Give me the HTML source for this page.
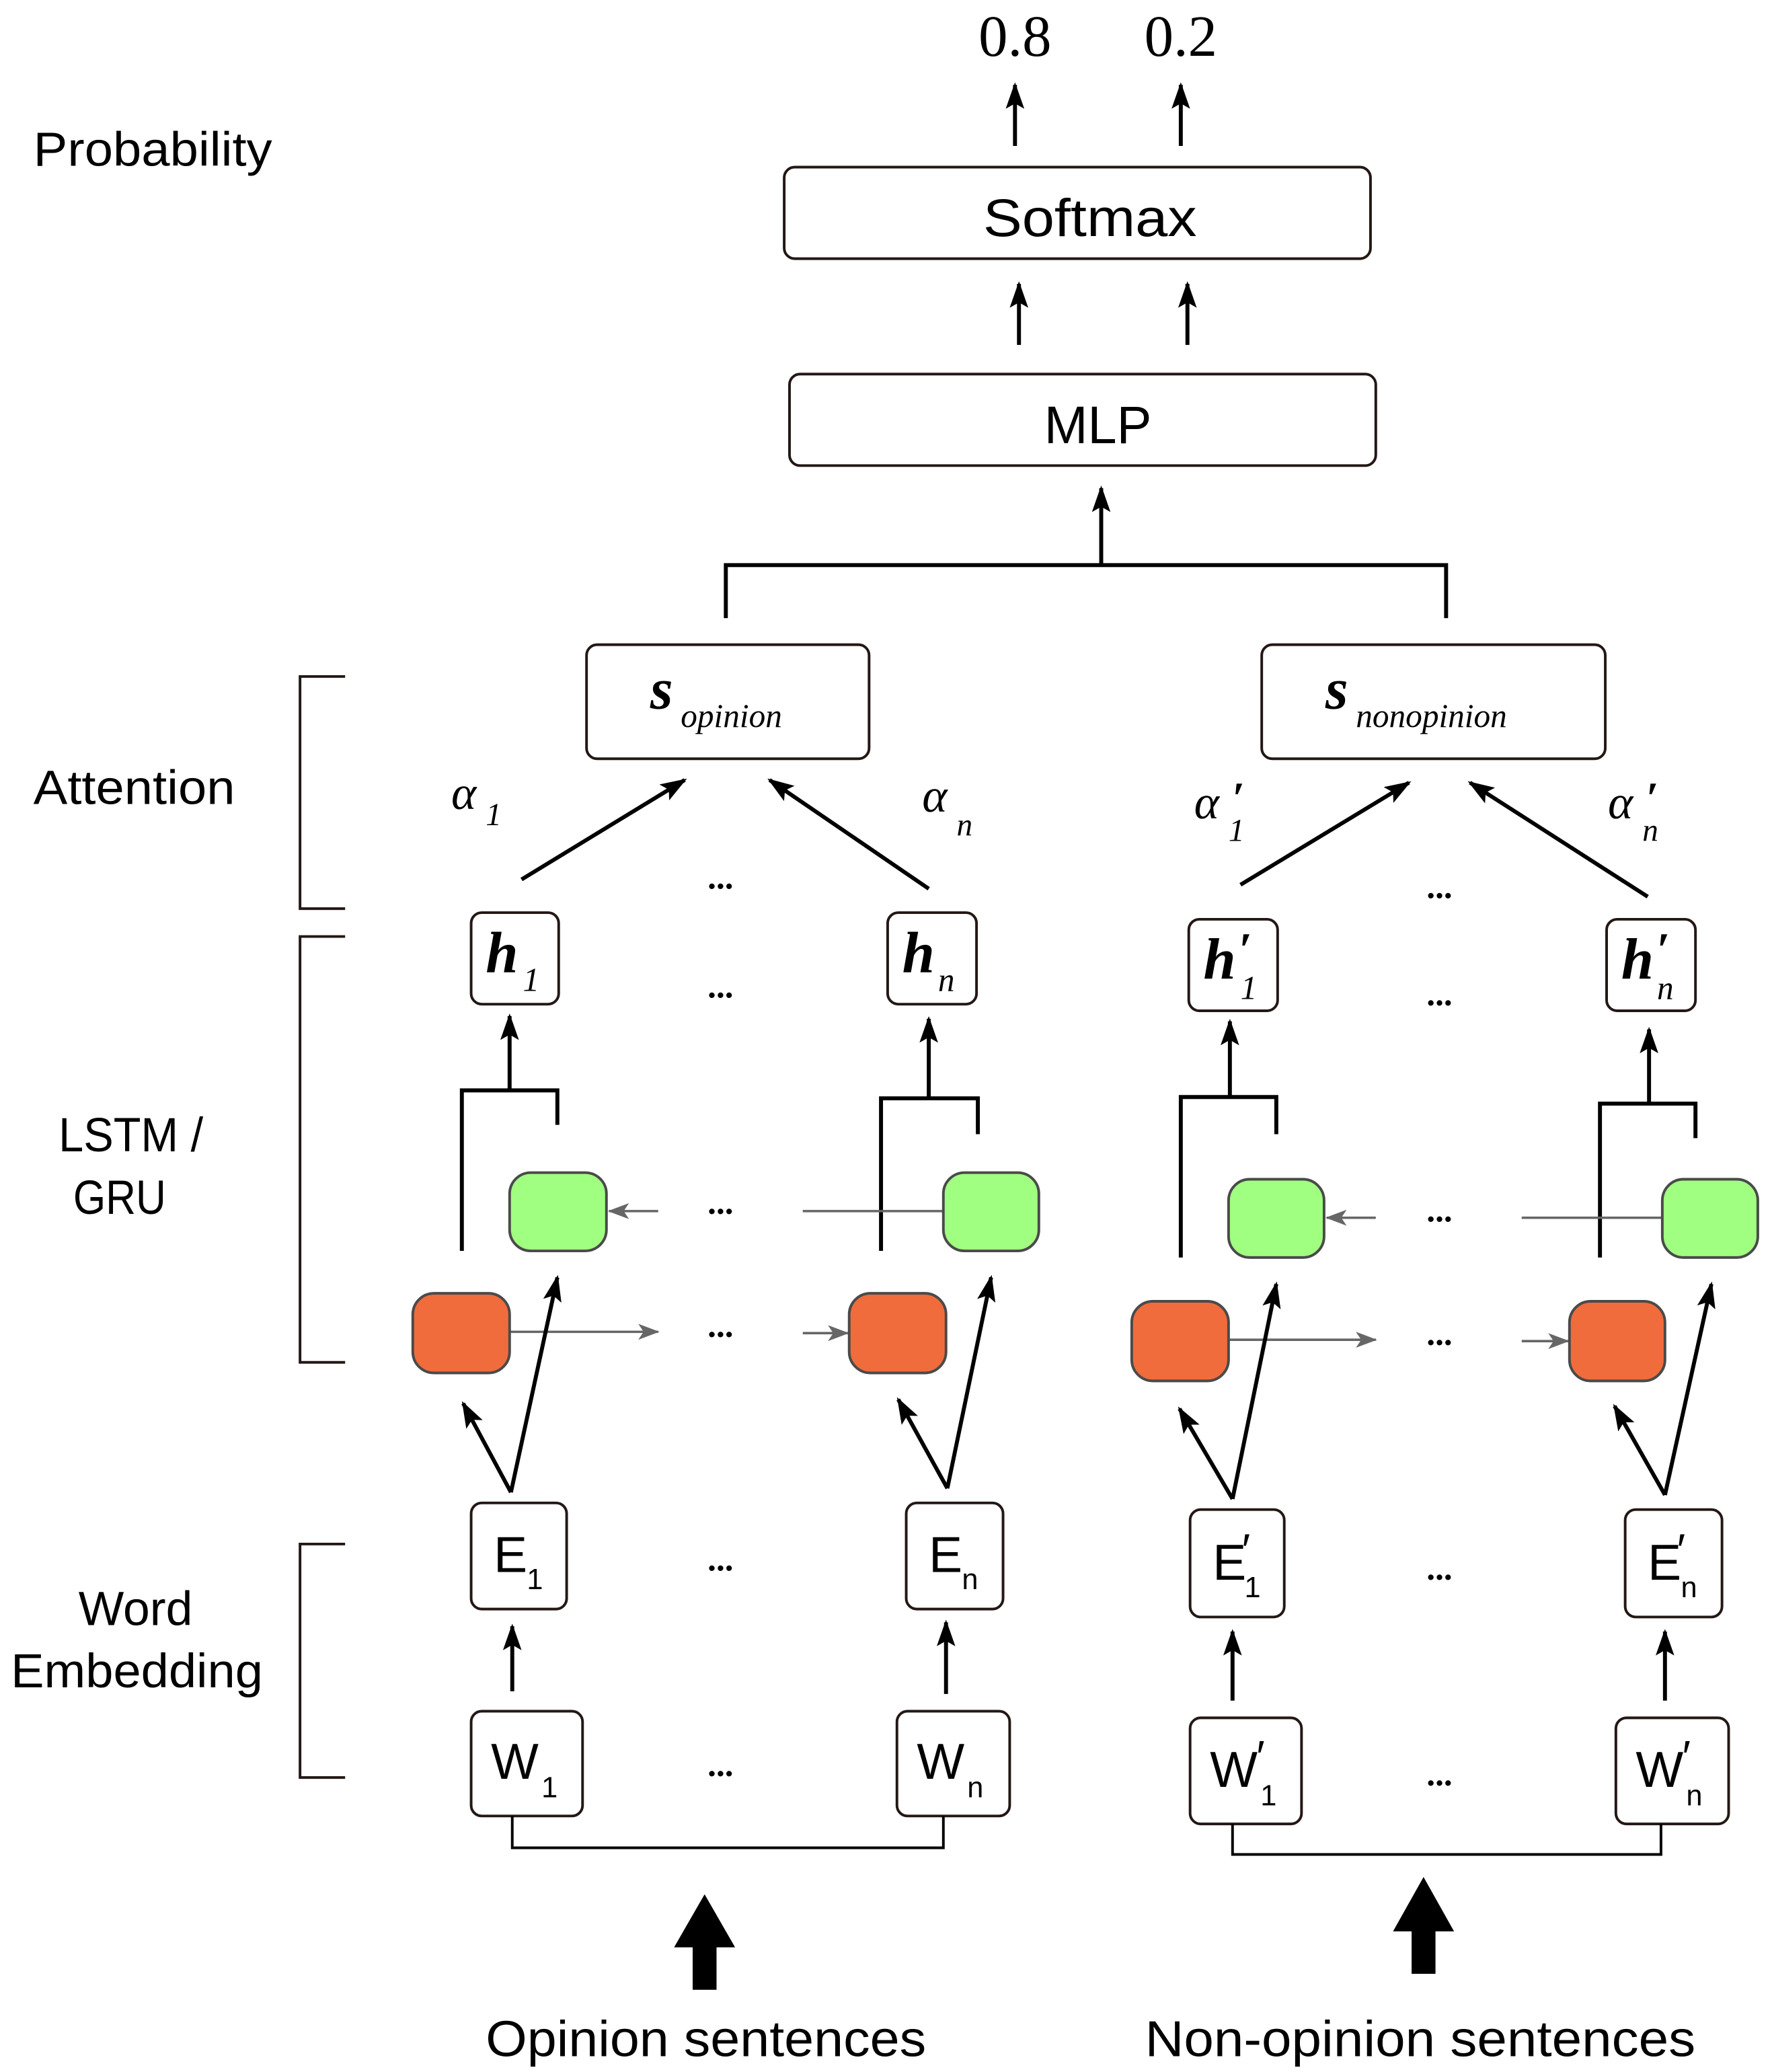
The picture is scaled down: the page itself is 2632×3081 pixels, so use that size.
<!DOCTYPE html>
<html><head><meta charset="utf-8"><style>html,body{margin:0;padding:0;background:#fff}svg{display:block}</style></head><body>
<svg width="2632" height="3081" viewBox="0 0 1334 1562" xmlns="http://www.w3.org/2000/svg">
<defs>
<marker id="k" markerWidth="20" markerHeight="14" refX="18" refY="7" orient="auto" markerUnits="userSpaceOnUse"><path d="M0,0 L20,7 L0,14 L4,7 Z" fill="#000"/></marker>
<marker id="g" markerWidth="16" markerHeight="12" refX="15" refY="6" orient="auto" markerUnits="userSpaceOnUse"><path d="M0,0 L16,6 L0,12 L4,6 Z" fill="#666"/></marker>
</defs>
<style>
.s{font-family:"Liberation Sans",sans-serif;fill:#000}
.m{font-family:"Liberation Serif",serif;font-style:italic;fill:#000}
.p{font-family:"Liberation Serif",serif;font-weight:bold;fill:#000}
.b{fill:#fff;stroke:#231815;stroke-width:2}
.l{stroke:#000;stroke-width:3;fill:none}
.gl{stroke:#666;stroke-width:1.8;fill:none}
.or{fill:#F06C3C;stroke:#4a4a4a;stroke-width:2}
.gr{fill:#A0FF80;stroke:#4a4a4a;stroke-width:2}
.d{font-family:"Liberation Serif",serif;font-size:26px;font-weight:bold;text-anchor:middle}
</style>
<text x="765" y="42" font-family="Liberation Serif,serif" font-size="44" text-anchor="middle">0.8</text>
<text x="890" y="42" font-family="Liberation Serif,serif" font-size="44" text-anchor="middle">0.2</text>
<line class="l" x1="765" y1="110" x2="765" y2="64" marker-end="url(#k)"/>
<line class="l" x1="890" y1="110" x2="890" y2="64" marker-end="url(#k)"/>
<rect class="b" x="591" y="126" width="442" height="69" rx="8"/>
<text class="s" x="741" y="178" font-size="40" textLength="161" lengthAdjust="spacingAndGlyphs">Softmax</text>
<line class="l" x1="768" y1="260" x2="768" y2="214" marker-end="url(#k)"/>
<line class="l" x1="895" y1="260" x2="895" y2="214" marker-end="url(#k)"/>
<rect class="b" x="595" y="282" width="442" height="69" rx="8"/>
<text class="s" x="787" y="334" font-size="40" textLength="81" lengthAdjust="spacingAndGlyphs">MLP</text>
<line class="l" x1="830" y1="425" x2="830" y2="368" marker-end="url(#k)"/>
<polyline class="l" points="547,466 547,426 1090,426 1090,466"/>
<rect class="b" x="442" y="486" width="213" height="86" rx="8"/>
<text class="m" x="490" y="534" font-size="44" font-weight="bold">s</text><text class="m" x="513" y="548" font-size="25">opinion</text>
<rect class="b" x="951" y="486" width="259" height="86" rx="8"/>
<text class="m" x="999" y="534" font-size="44" font-weight="bold">s</text><text class="m" x="1022" y="548" font-size="25">nonopinion</text>
<text class="m" x="340" y="610" font-size="36">α</text><text class="m" x="366" y="622" font-size="24">1</text>
<text class="m" x="695" y="612" font-size="36">α</text><text class="m" x="721" y="630" font-size="24">n</text>
<text class="m" x="900" y="617" font-size="36">α</text><text class="m" x="926" y="634" font-size="24">1</text><text class="p" x="929" y="613" font-size="34">′</text>
<text class="m" x="1212" y="617" font-size="36">α</text><text class="m" x="1238" y="634" font-size="24">n</text><text class="p" x="1241" y="613" font-size="34">′</text>
<line class="l" x1="393" y1="663" x2="516" y2="588" marker-end="url(#k)"/>
<line class="l" x1="700" y1="670" x2="580" y2="588" marker-end="url(#k)"/>
<line class="l" x1="935" y1="667" x2="1062" y2="590" marker-end="url(#k)"/>
<line class="l" x1="1242" y1="676" x2="1108" y2="590" marker-end="url(#k)"/>
<g class="d">
<text x="543" y="670">...</text><text x="1085" y="677">...</text>
<text x="543" y="752">...</text><text x="1085" y="758">...</text>
<text x="543" y="915">...</text><text x="1085" y="921">...</text>
<text x="543" y="1008">...</text><text x="1085" y="1014">...</text>
<text x="543" y="1184">...</text><text x="1085" y="1191">...</text>
<text x="543" y="1339">...</text><text x="1085" y="1346">...</text>
</g>
<rect class="b" x="355" y="688" width="66" height="69" rx="8"/>
<text class="m" x="366" y="733" font-size="44" font-weight="bold">h</text><text class="m" x="394" y="747" font-size="25">1</text>
<rect class="b" x="669" y="688" width="67" height="69" rx="8"/>
<text class="m" x="680" y="733" font-size="44" font-weight="bold">h</text><text class="m" x="707" y="747" font-size="25">n</text>
<rect class="b" x="896" y="693" width="67" height="69" rx="8"/>
<text class="m" x="907" y="738" font-size="44" font-weight="bold">h</text><text class="m" x="935" y="753" font-size="25">1</text><text class="p" x="934" y="728" font-size="36">′</text>
<rect class="b" x="1211" y="693" width="67" height="69" rx="8"/>
<text class="m" x="1222" y="738" font-size="44" font-weight="bold">h</text><text class="m" x="1249" y="753" font-size="25">n</text><text class="p" x="1249" y="728" font-size="36">′</text>
<polyline class="l" points="348,943 348,822 420,822 420,848"/>
<line class="l" x1="384" y1="822" x2="384" y2="766" marker-end="url(#k)"/>
<line class="gl" x1="496" y1="913" x2="459" y2="913" marker-end="url(#g)"/>
<line class="gl" x1="384" y1="1004" x2="496" y2="1004" marker-end="url(#g)"/>
<rect class="gr" x="384" y="884" width="73" height="59" rx="16"/>
<rect class="or" x="311" y="975" width="73" height="60" rx="16"/>
<line class="l" x1="385" y1="1125" x2="349" y2="1058" marker-end="url(#k)"/>
<line class="l" x1="385" y1="1125" x2="420" y2="963" marker-end="url(#k)"/>
<polyline class="l" points="664,943 664,828 737,828 737,855"/>
<line class="l" x1="700" y1="828" x2="700" y2="768" marker-end="url(#k)"/>
<line class="gl" x1="605" y1="913" x2="711" y2="913"/>
<line class="gl" x1="605" y1="1005" x2="639" y2="1005" marker-end="url(#g)"/>
<rect class="gr" x="711" y="884" width="72" height="59" rx="16"/>
<rect class="or" x="640" y="975" width="73" height="60" rx="16"/>
<line class="l" x1="714" y1="1122" x2="677" y2="1055" marker-end="url(#k)"/>
<line class="l" x1="714" y1="1122" x2="747" y2="963" marker-end="url(#k)"/>
<polyline class="l" points="890,948 890,827 962,827 962,855"/>
<line class="l" x1="927" y1="827" x2="927" y2="770" marker-end="url(#k)"/>
<line class="gl" x1="1037" y1="918" x2="1000" y2="918" marker-end="url(#g)"/>
<line class="gl" x1="926" y1="1010" x2="1037" y2="1010" marker-end="url(#g)"/>
<rect class="gr" x="926" y="889" width="72" height="59" rx="16"/>
<rect class="or" x="853" y="981" width="73" height="60" rx="16"/>
<line class="l" x1="929" y1="1130" x2="889" y2="1062" marker-end="url(#k)"/>
<line class="l" x1="929" y1="1130" x2="962" y2="968" marker-end="url(#k)"/>
<polyline class="l" points="1206,948 1206,832 1278,832 1278,858"/>
<line class="l" x1="1243" y1="832" x2="1243" y2="776" marker-end="url(#k)"/>
<line class="gl" x1="1147" y1="918" x2="1253" y2="918"/>
<line class="gl" x1="1147" y1="1011" x2="1182" y2="1011" marker-end="url(#g)"/>
<rect class="gr" x="1253" y="889" width="72" height="59" rx="16"/>
<rect class="or" x="1183" y="981" width="72" height="60" rx="16"/>
<line class="l" x1="1255" y1="1127" x2="1217" y2="1060" marker-end="url(#k)"/>
<line class="l" x1="1255" y1="1127" x2="1290" y2="968" marker-end="url(#k)"/>
<rect class="b" x="355" y="1133" width="72" height="80" rx="8"/>
<text class="s" x="372" y="1185" font-size="38">E</text><text class="s" x="397" y="1198" font-size="22">1</text>
<rect class="b" x="683" y="1133" width="73" height="80" rx="8"/>
<text class="s" x="700" y="1185" font-size="38">E</text><text class="s" x="725" y="1198" font-size="22">n</text>
<rect class="b" x="897" y="1138" width="71" height="81" rx="8"/>
<text class="s" x="914" y="1191" font-size="38">E</text><text class="s" x="938" y="1204" font-size="22">1</text><text class="s" x="936" y="1180" font-size="34">′</text>
<rect class="b" x="1225" y="1138" width="73" height="81" rx="8"/>
<text class="s" x="1242" y="1191" font-size="38">E</text><text class="s" x="1267" y="1204" font-size="22">n</text><text class="s" x="1264" y="1180" font-size="34">′</text>
<line class="l" x1="386" y1="1275" x2="386" y2="1226" marker-end="url(#k)"/>
<line class="l" x1="713" y1="1277" x2="713" y2="1223" marker-end="url(#k)"/>
<line class="l" x1="929" y1="1282" x2="929" y2="1230" marker-end="url(#k)"/>
<line class="l" x1="1255" y1="1282" x2="1255" y2="1230" marker-end="url(#k)"/>
<rect class="b" x="355" y="1290" width="84" height="79" rx="8"/>
<text class="s" x="370" y="1341" font-size="38">W</text><text class="s" x="408" y="1355" font-size="22">1</text>
<rect class="b" x="676" y="1290" width="85" height="79" rx="8"/>
<text class="s" x="691" y="1341" font-size="38">W</text><text class="s" x="729" y="1355" font-size="22">n</text>
<rect class="b" x="897" y="1295" width="84" height="80" rx="8"/>
<text class="s" x="912" y="1347" font-size="38">W</text><text class="s" x="950" y="1361" font-size="22">1</text><text class="s" x="947" y="1336" font-size="34">′</text>
<rect class="b" x="1218" y="1295" width="85" height="80" rx="8"/>
<text class="s" x="1233" y="1347" font-size="38">W</text><text class="s" x="1271" y="1361" font-size="22">n</text><text class="s" x="1268" y="1336" font-size="34">′</text>
<polyline points="386,1369 386,1393 711,1393 711,1369" fill="none" stroke="#000" stroke-width="2"/>
<polyline points="929,1375 929,1398 1252,1398 1252,1375" fill="none" stroke="#000" stroke-width="2"/>
<path d="M522,1500 L540,1500 L540,1468 L554,1468 L531,1428 L508,1468 L522,1468 Z" fill="#000"/>
<path d="M1064,1488 L1082,1488 L1082,1456 L1096,1456 L1073,1415 L1050,1456 L1064,1456 Z" fill="#000"/>
<text class="s" x="366" y="1550" font-size="38" textLength="332" lengthAdjust="spacingAndGlyphs">Opinion sentences</text>
<text class="s" x="863" y="1550" font-size="38" textLength="415" lengthAdjust="spacingAndGlyphs">Non-opinion sentences</text>
<text class="s" x="25" y="125" font-size="36" textLength="180" lengthAdjust="spacingAndGlyphs">Probability</text>
<text class="s" x="25" y="606" font-size="36" textLength="152" lengthAdjust="spacingAndGlyphs">Attention</text>
<text class="s" x="44" y="868" font-size="36" textLength="109" lengthAdjust="spacingAndGlyphs">LSTM /</text>
<text class="s" x="55" y="915" font-size="36" textLength="70" lengthAdjust="spacingAndGlyphs">GRU</text>
<text class="s" x="59" y="1225" font-size="36" textLength="86" lengthAdjust="spacingAndGlyphs">Word</text>
<text class="s" x="8" y="1272" font-size="36" textLength="190" lengthAdjust="spacingAndGlyphs">Embedding</text>
<g fill="none" stroke="#231815" stroke-width="2">
<polyline points="260,510 226,510 226,685 260,685"/>
<polyline points="260,706 226,706 226,1027 260,1027"/>
<polyline points="260,1164 226,1164 226,1340 260,1340"/>
</g>
</svg>
</body></html>
